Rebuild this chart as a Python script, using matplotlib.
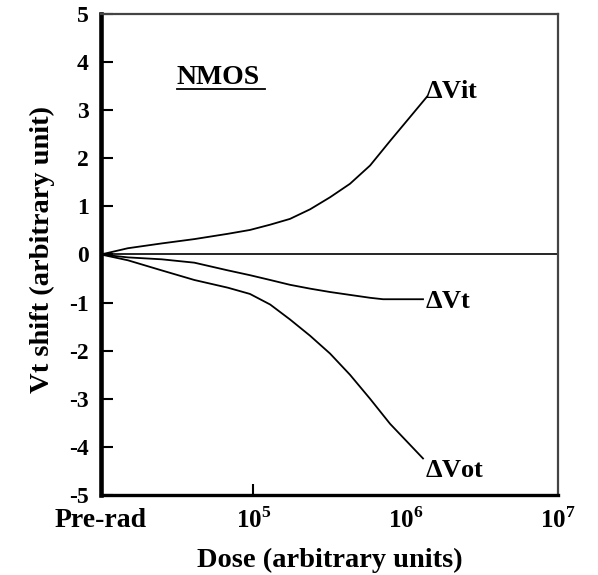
import numpy as np
import matplotlib
matplotlib.use("Agg")
import matplotlib.pyplot as plt

plt.rcParams['font.family'] = 'Liberation Serif'
plt.rcParams['font.weight'] = 'bold'
plt.rcParams['axes.labelweight'] = 'bold'
plt.rcParams['mathtext.fontset'] = 'custom'
plt.rcParams['mathtext.rm'] = 'Liberation Serif:bold'
plt.rcParams['mathtext.bf'] = 'Liberation Serif:bold'

# values (dose in arbitrary units, pre-rad put at 1e4)
dose_it = [1e4, 1.5e4, 2.5e4, 4.1e4, 6.8e4, 9.5e4, 1.29e5, 1.74e5, 2.36e5,
           3.19e5, 4.31e5, 5.84e5, 7.9e5, 1.07e6, 1.38e6]
dvit = [0, 0.13, 0.23, 0.32, 0.43, 0.51, 0.62, 0.74, 0.94,
        1.19, 1.47, 1.85, 2.36, 2.86, 3.28]

dose_t = [1e4, 1.5e4, 2.5e4, 4.1e4, 6.8e4, 9.5e4, 1.29e5, 1.74e5, 2.36e5,
          3.19e5, 4.31e5, 5.84e5, 7.1e5, 1.3e6]
dvt = [0, -0.06, -0.1, -0.17, -0.33, -0.43, -0.53, -0.63, -0.71,
       -0.78, -0.84, -0.9, -0.93, -0.93]

dose_ot = [1e4, 1.5e4, 2.5e4, 4.1e4, 6.8e4, 9.5e4, 1.29e5, 1.74e5, 2.36e5,
           3.19e5, 4.31e5, 5.84e5, 7.9e5, 1.3e6]
dvot = [0, -0.12, -0.33, -0.53, -0.69, -0.82, -1.04, -1.35, -1.69,
        -2.06, -2.5, -3.0, -3.52, -4.24]

xticks = [1e4, 1e5, 1e6, 1e7]
xticklabels = ['Pre-rad', r'$10^{5}$', r'$10^{6}$', r'$10^{7}$']
yticks = [-5, -4, -3, -2, -1, 0, 1, 2, 3, 4, 5]

fig = plt.figure(figsize=(5.98, 5.75), dpi=100)
ax = fig.add_axes([0.1689, 0.1391, 0.7642, 0.8366])

ax.plot(dose_it, dvit, color='black', lw=1.3)
ax.plot(dose_t, dvt, color='black', lw=1.3)
ax.plot(dose_ot, dvot, color='black', lw=1.3)
ax.axhline(0, color='black', lw=1.2)

ax.set_xscale('log')
ax.set_xlim(1e4, 1e7)
ax.set_ylim(-5, 5)

ax.set_xticks(xticks)
ax.set_xticklabels(xticklabels, fontsize=18)
ax.get_xticklabels()[0].set_fontsize(20)
ax.minorticks_off()
ax.set_yticks(yticks)
ax.set_yticklabels([str(v) for v in yticks], fontsize=17)

ax.tick_params(axis='y', direction='in', length=8.5, width=1.5, pad=9)
ax.tick_params(axis='x', direction='in', length=8, width=1.5, pad=9)
for t, v in zip(ax.xaxis.get_major_ticks(), xticks):
    if v != 1e5:
        t.tick1line.set_visible(False)
    t.tick2line.set_visible(False)
for t in ax.yaxis.get_major_ticks():
    t.tick2line.set_visible(False)

ax.spines['left'].set_linewidth(3.3)
ax.spines['bottom'].set_linewidth(2.4)
ax.spines['top'].set_linewidth(1.6)
ax.spines['right'].set_linewidth(1.6)
ax.spines['top'].set_color('#444444')
ax.spines['right'].set_color('#444444')

ax.set_xlabel('Dose (arbitrary units)', fontsize=20.5)
ax.xaxis.set_label_coords(0.5, -0.11)
ax.set_ylabel('Vt shift (arbitrary unit)', fontsize=20.5)
ax.yaxis.set_label_coords(-0.1, 0.51)

ax.text(1.34e6, 3.38, r'$\Delta$Vit', fontsize=19, ha='left', va='center')
ax.text(1.34e6, -0.98, r'$\Delta$Vt', fontsize=19, ha='left', va='center')
ax.text(1.34e6, -4.5, r'$\Delta$Vot', fontsize=19, ha='left', va='center')

ax.text(0.166, 0.868, 'NMOS', fontsize=20, ha='left', va='center',
        transform=ax.transAxes)
ax.plot([0.166, 0.359], [0.844, 0.844], color='black', lw=1.3,
        transform=ax.transAxes, clip_on=False)

fig.savefig('out.png', dpi=100)
